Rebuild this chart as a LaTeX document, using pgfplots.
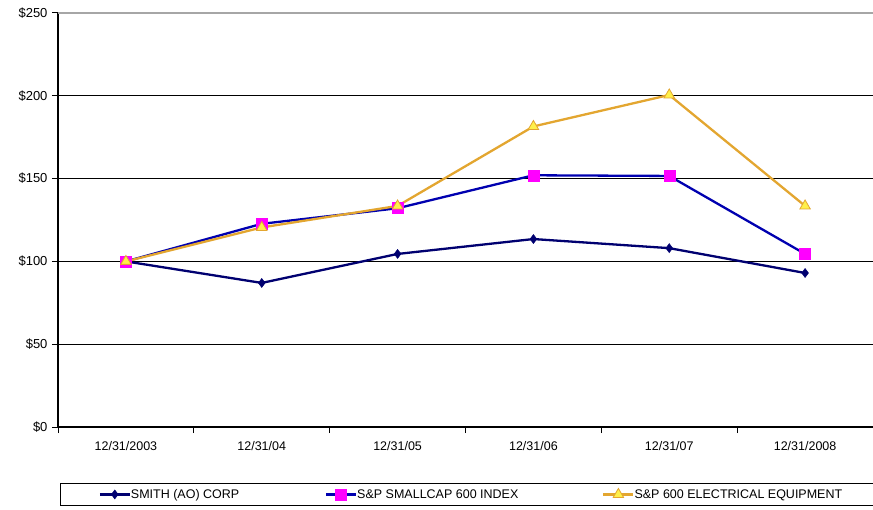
\documentclass[border=0pt]{standalone}
\usepackage{fontspec}
\setmainfont{Liberation Sans}
\usepackage{pgfplots}
\pgfplotsset{compat=1.18}
\definecolor{smithc}{HTML}{000070}
\definecolor{smallc}{HTML}{0000B0}
\definecolor{smallm}{HTML}{FF00FF}
\definecolor{elecc}{HTML}{E3A630}
\definecolor{elecm}{HTML}{FFF04A}
\begin{document}
\begin{tikzpicture}
\path[use as bounding box] (0,0) rectangle (873bp,510bp);
\begin{axis}[
  at={(58bp,83bp)}, anchor=south west,
  scale only axis, width=815bp, height=414bp,
  xmin=-0.5, xmax=5.5, ymin=0, ymax=250,
  axis x line=bottom, axis y line=left,
  axis line style={line width=1.3bp, -},
  clip=false,
  ytick={0,50,100,150,200},
  yticklabels={\$0,\$50,\$100,\$150,\$200},
  extra y ticks={250}, extra y tick labels={\$250},
  extra y tick style={grid style={line width=1.2bp, draw=gray!70}},
  ymajorgrids, grid style={line width=1.2bp, draw=black},
  tick align=outside, major tick length=6bp,
  tick style={line width=1bp, black},
  xtick={-0.5,0.5,1.5,2.5,3.5,4.5,5.5}, xticklabels={},
  extra x ticks={0,1,2,3,4,5},
  extra x tick labels={12/31/2003,12/31/04,12/31/05,12/31/06,12/31/07,12/31/2008},
  extra x tick style={major tick length=0pt, xticklabel style={yshift=-11bp}},
  xticklabel style={font=\fontsize{12.5bp}{14bp}\selectfont},
  yticklabel style={font=\fontsize{13bp}{15bp}\selectfont, xshift=-1bp},
  legend columns=3,
  legend image code/.code={\draw[mark repeat=2,mark phase=2,#1] plot coordinates {(0bp,0bp)(15bp,0bp)(30bp,0bp)};},
  legend style={at={(rel axis cs:0,0)}, anchor=north west, xshift=2bp, yshift=-56bp,
    draw=black, line width=1.3bp, inner xsep=38bp, inner ysep=3.5bp,
    font=\fontsize{12.5bp}{14bp}\selectfont,
    nodes={inner xsep=0pt, inner ysep=2bp},
    /tikz/every odd column/.style={column sep=0pt},
    /tikz/every even column/.style={column sep=0pt}},
]
\addplot[color=smithc, line width=2.3bp, mark=diamond*, mark size=4.5bp,
  mark options={fill=smithc, draw=smithc, line width=0.5bp}]
  coordinates {(0,100) (1,87) (2,104.5) (3,113.5) (4,108) (5,93)};
\addlegendentry{\makebox[194bp][l]{SMITH (AO) CORP}}
\addplot[color=smallc, line width=2.3bp, mark=square*, mark size=5.5bp,
  mark options={fill=smallm, draw=smallm, line width=0.5bp}]
  coordinates {(0,100) (1,122.7) (2,132.1) (3,152) (4,151.6) (5,104.5)};
\addlegendentry{\makebox[245bp][l]{S\&P SMALLCAP 600 INDEX}}
\addplot[color=elecc, line width=2.3bp, mark=triangle*, mark size=6bp,
  mark options={fill=elecm, draw=elecc, line width=0.8bp}]
  coordinates {(0,100) (1,120.5) (2,133.5) (3,181.5) (4,200.5) (5,133.5)};
\addlegendentry{\makebox[209bp][l]{S\&P 600 ELECTRICAL EQUIPMENT}}
\end{axis}
\end{tikzpicture}
\end{document}
